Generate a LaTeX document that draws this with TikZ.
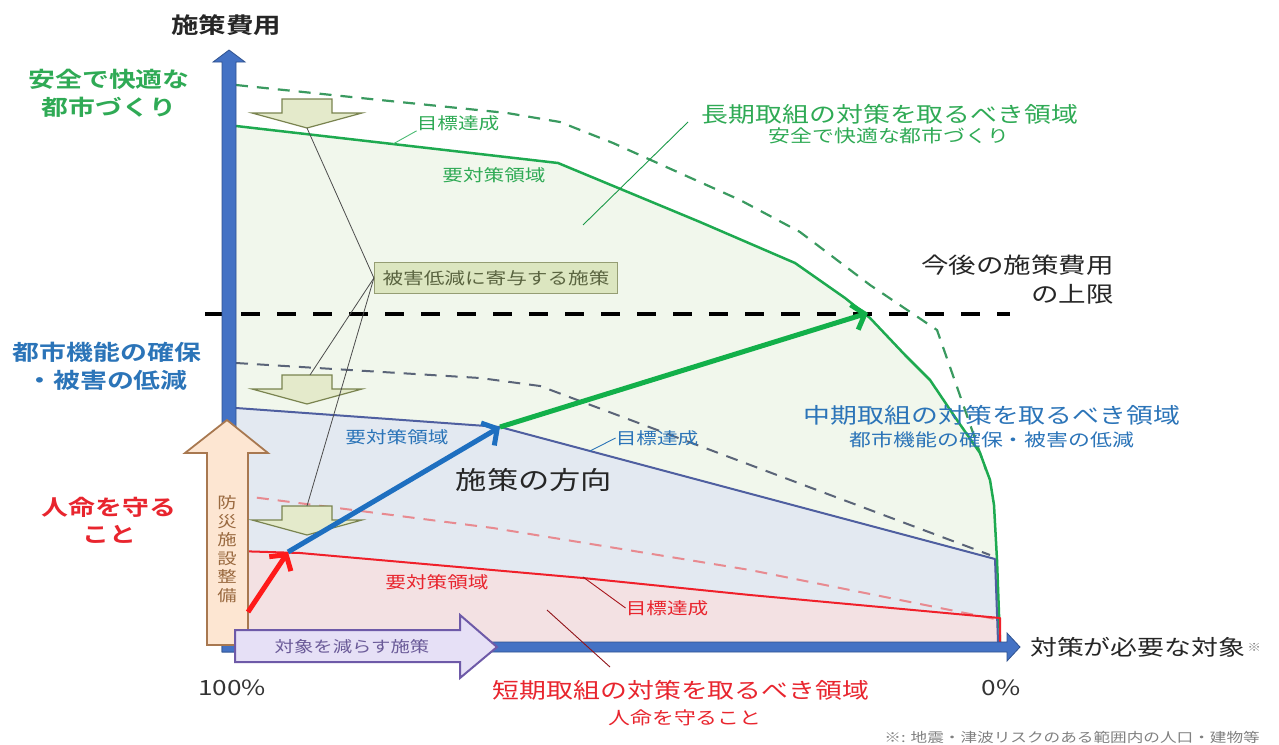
\documentclass[tikz,border=0pt]{standalone}
\usepackage{fontspec}
\setmainfont{Noto Sans CJK JP}[FakeStretch=1.25,BoldFont={* Bold}]
\usetikzlibrary{arrows.meta}
\definecolor{gtxt}{HTML}{2FAA55}
\definecolor{btxt}{HTML}{2B74B8}
\definecolor{rtxt}{HTML}{E8252E}
\definecolor{gline}{HTML}{1EAA50}
\definecolor{bline}{HTML}{4F5FA0}
\definecolor{rline}{HTML}{F0202A}
\definecolor{gdash}{HTML}{3A9A60}
\definecolor{bdash}{HTML}{5A6478}
\definecolor{rdash}{HTML}{E88A90}
\definecolor{gfill}{HTML}{F1F7EC}
\definecolor{bfill}{HTML}{E3E9F1}
\definecolor{rfill}{HTML}{F3E1E3}
\definecolor{axisblue}{HTML}{4472C4}
\definecolor{axisedge}{HTML}{2F528F}
\definecolor{arrblue}{HTML}{1E6FC0}
\definecolor{arrgreen}{HTML}{12B04A}
\definecolor{arrred}{HTML}{FF1A1A}
\definecolor{blkfill}{HTML}{E4EACB}
\definecolor{blkedge}{HTML}{7A8450}
\definecolor{boxfill}{HTML}{DCE6C0}
\definecolor{boxtext}{HTML}{5A6440}
\definecolor{orfill}{HTML}{FDE6D2}
\definecolor{oredge}{HTML}{A87850}
\definecolor{ortext}{HTML}{9A6A40}
\definecolor{pufill}{HTML}{E6E0F6}
\definecolor{puedge}{HTML}{6E5AA8}
\definecolor{putext}{HTML}{6A5A98}
\definecolor{foot}{HTML}{808080}
\tikzset{
  lbl/.style={inner sep=0pt, anchor=center},
  smalllbl/.style={lbl, font=\fontsize{16.5}{18}\selectfont},
  callout/.style={line width=0.9pt},
  blockd/.style={fill=blkfill, draw=blkedge, line width=1.2pt, line join=miter},
  dirarrow/.style={line width=5pt, -{Straight Barb[length=11pt,width=26pt]}},
}
\newcommand\blkdown[2]{%
  \draw[blockd] (#1-25,#2) -- (#1+25,#2) -- (#1+25,#2+14) -- (#1+55,#2+14) -- (#1,#2+29) -- (#1-55,#2+14) -- (#1-25,#2+14) -- cycle;}
\begin{document}
\begin{tikzpicture}[x=1pt,y=-1pt]
\useasboundingbox (0,0) rectangle (1279,744);

% region fills
\fill[gfill] (236,126) -- (558,163) -- (700,222) -- (795,263) -- (845,298) -- (870,318) -- (905,355) -- (930,380) -- (957,420) -- (980,453) -- (990,480) -- (994,505) -- (997,560) -- (1000,642) -- (236,642) -- cycle;
\fill[bfill] (236,408) -- (500,427) -- (995,559) -- (998,642) -- (236,642) -- cycle;
\fill[rfill] (236,551) -- (300,553) -- (583,578) -- (750,595) -- (1000,618) -- (1000,642) -- (236,642) -- cycle;

% target (dashed) lines
\draw[gdash, line width=2.2pt, dash pattern=on 12pt off 9pt] (236,85) -- (380,100) -- (507,113) -- (560,122) -- (613,143) -- (673,170) -- (740,200) -- (800,232) -- (870,285) -- (937,330) -- (957,387) -- (972,430) -- (986,470);
\draw[bdash, line width=2pt, dash pattern=on 12pt off 9pt] (236,363) -- (480,378) -- (540,386) -- (990,555);
\draw[rdash, line width=2pt, dash pattern=on 12pt off 9pt] (236,495) -- (353,510) -- (493,528) -- (750,570) -- (1000,620);

% solid boundary lines
\draw[gline, line width=2.5pt, line join=round] (236,126) -- (558,163) -- (700,222) -- (795,263) -- (845,298) -- (870,318) -- (905,355) -- (930,380) -- (957,420) -- (980,453) -- (990,480) -- (994,505) -- (997,560) -- (1000,642);
\draw[bline, line width=2pt, line join=round] (236,408) -- (500,427) -- (995,559) -- (998,642);
\draw[rline, line width=2pt, line join=round] (236,551) -- (300,553) -- (583,578) -- (750,595) -- (1000,618) -- (1000,642);

% upper limit
\draw[black, line width=4pt, dash pattern=on 19pt off 17pt] (205,314) -- (1010,314);

% axes
\draw[fill=axisblue, draw=axisedge, line width=0.8pt] (222,652) -- (222,62) -- (213,62) -- (229,50) -- (245,62) -- (236,62) -- (236,652) -- cycle;
\draw[fill=axisblue, draw=axisedge, line width=0.8pt] (222,642) -- (1007,642) -- (1007,633) -- (1020,647) -- (1007,661) -- (1007,652) -- (222,652) -- cycle;

% block arrows
\draw[fill=orfill, draw=oredge, line width=1.8pt, line join=miter] (207,645) -- (207,453) -- (185,453) -- (227,420) -- (268,453) -- (248,453) -- (248,645) -- cycle;
\node[lbl, text=ortext, align=center, font=\fontsize{15.5}{18.5}\selectfont] (bousai) at (227,549) {防\\災\\施\\設\\整\\備};
\draw[fill=pufill, draw=puedge, line width=2pt, line join=miter] (235,630) -- (460,630) -- (460,615) -- (497,647) -- (460,678) -- (460,662) -- (235,662) -- cycle;
\node[lbl, text=putext, font=\fontsize{15.5}{18}\selectfont] (taisho) at (352,647) {対象を減らす施策};

% down arrows (measures for damage reduction)
\blkdown{307}{99}
\blkdown{307}{375}
\blkdown{307}{506}
\coordinate (d1) at (307,128);
\coordinate (d2) at (310,375);
\coordinate (d3) at (307,506);
\node[lbl, draw=blkedge!80, fill=boxfill, line width=1.2pt, minimum width=243pt, minimum height=31pt, text=boxtext, font=\fontsize{16.5}{18}\selectfont] (bx) at (496,278) {被害低減に寄与する施策};
\draw[black!70, line width=0.8pt] (bx.west) -- (d1);
\draw[black!70, line width=0.8pt] (bx.west) -- (d2);
\draw[black!70, line width=0.8pt] (bx.west) -- (d3);

% direction arrows
\coordinate (p0) at (248,612);
\coordinate (p1) at (288,552);
\coordinate (p2) at (500,427);
\coordinate (p3) at (868,313);
\draw[dirarrow, arrred] (p0) -- (p1);
\draw[dirarrow, arrblue] (p1) -- (p2);
\draw[dirarrow, arrgreen] (p2) -- (p3);
\node[lbl, font=\fontsize{25}{28}\selectfont, text=black!85] (houkou) at (534,480) {施策の方向};

% small labels + callouts
\node[smalllbl, text=gtxt] (gmoku) at (458,123) {目標達成};
\coordinate (gc1) at (393,144);
\draw[callout, gline!80] (gc1) -- (gmoku.south west);
\node[smalllbl, text=gtxt] (gyou) at (494,175) {要対策領域};
\node[smalllbl, text=btxt] (byou) at (397,437) {要対策領域};
\node[smalllbl, text=btxt] (bmoku) at (657,438) {目標達成};
\coordinate (bc1) at (590,451);
\draw[callout, btxt] (bc1) -- (bmoku.west);
\node[smalllbl, text=rtxt] (ryou) at (437,582) {要対策領域};
\node[smalllbl, text=rtxt] (rmoku) at (667,608) {目標達成};
\coordinate (rc1) at (583,577);
\draw[callout, rline!70!black] (rc1) -- (rmoku.west);

% region titles
\node[lbl, text=gtxt, font=\fontsize{21.5}{24}\selectfont] (long1) at (890,114) {長期取組の対策を取るべき領域};
\node[lbl, text=gtxt, font=\fontsize{17.5}{20}\selectfont] (long2) at (889,136) {安全で快適な都市づくり};
\coordinate (lc1) at (583,225);
\coordinate (lc2) at (688,122);
\draw[callout, gline!90!black] (lc1) -- (lc2);
\node[lbl, text=btxt, font=\fontsize{21.5}{24}\selectfont] (mid1) at (992,415) {中期取組の対策を取るべき領域};
\node[lbl, text=btxt, font=\fontsize{17.5}{20}\selectfont] (mid2) at (992,440) {都市機能の確保・被害の低減};
\node[lbl, text=rtxt, font=\fontsize{21.5}{24}\selectfont] (short1) at (681,690) {短期取組の対策を取るべき領域};
\node[lbl, text=rtxt, font=\fontsize{17.5}{20}\selectfont] (short2) at (685,718) {人命を守ること};
\coordinate (sc1) at (547,610);
\coordinate (sc2) at (610,667);
\draw[callout, rline!60!black] (sc1) -- (sc2);

% axis labels
\node[lbl, font=\bfseries\fontsize{22}{24}\selectfont, text=black!85] (ylab) at (226,25) {施策費用};
\node[lbl, font=\fontsize{21.5}{24}\selectfont, text=black!85, anchor=west] (xlab) at (1030,647) {対策が必要な対象};
\node[lbl, font=\fontsize{11}{12}\selectfont, text=foot, anchor=west] (xmark) at (xlab.east) {\,※};
\node[lbl, font=\fontsize{21}{24}\selectfont, text=black!80] (p100) at (232,688) {100\%};
\node[lbl, font=\fontsize{21}{24}\selectfont, text=black!80] (p0l) at (1001,688) {0\%};
\node[lbl, font=\fontsize{13.3}{14}\selectfont, text=foot, anchor=east] (note) at (1260,737) {※: 地震・津波リスクのある範囲内の人口・建物等};

% upper limit label
\node[lbl, font=\fontsize{22}{24}\selectfont, text=black!85, anchor=east] (lim1) at (1114,265) {今後の施策費用};
\node[lbl, font=\fontsize{22}{24}\selectfont, text=black!85, anchor=east] (lim2) at (1114,294) {の上限};

% left goal labels
\node[lbl, text=gtxt, align=center, font=\bfseries\fontsize{21.5}{28}\selectfont] (lg) at (109,93) {安全で快適な\\都市づくり};
\node[lbl, text=btxt, align=center, font=\bfseries\fontsize{21.5}{28}\selectfont] (lb) at (107,366) {都市機能の確保\\・被害の低減};
\node[lbl, text=rtxt, align=center, font=\bfseries\fontsize{21.5}{27}\selectfont] (lr) at (109,520) {人命を守る\\こと};
\end{tikzpicture}
\end{document}
